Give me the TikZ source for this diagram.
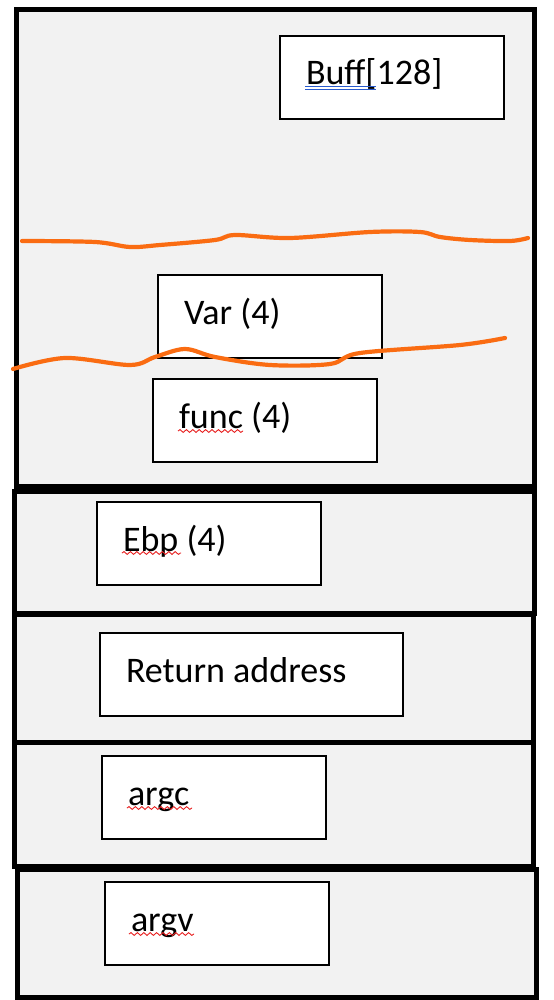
\documentclass[tikz,border=0pt]{standalone}
\usepackage{fontspec}
\setmainfont{Carlito}
\usetikzlibrary{decorations.pathmorphing}

\definecolor{stackgray}{RGB}{242,242,242}
\definecolor{markorange}{RGB}{250,108,18}
\definecolor{spellred}{RGB}{232,32,32}
\definecolor{grammarblue}{RGB}{40,90,205}

\tikzset{
  frame/.style={draw, line width=2.6pt, fill=stackgray, anchor=north west, inner sep=0pt},
  slot/.style={draw, line width=1pt, fill=white, anchor=north west, inner xsep=13pt, inner ysep=0pt,
    text width=86pt, text height=24.5pt, text depth=17pt, align=flush left, font=\fontsize{18}{22}\selectfont},
  scribble/.style={markorange, line width=2.1pt, line cap=round, line join=round},
  spell/.style={spellred, line width=0.45pt, decorate, decoration={snake, amplitude=0.7pt, segment length=3.2pt}},
  grammar/.style={grammarblue, line width=0.5pt}
}

\begin{document}
\begin{tikzpicture}[x=0.5pt, y=-0.5pt]
  \useasboundingbox (0,0) rectangle (553,1000);
  % stack frames
  \node[frame, minimum width=259pt, minimum height=238.5pt] (locals) at (14,7) {};
  \node[frame, minimum width=260pt, minimum height=61pt] (savedebp) at (12,489) {};
  \node[frame, minimum width=259.5pt, minimum height=64pt] (retaddr) at (12,612) {};
  \node[frame, minimum width=259.5pt, minimum height=62pt] (argcframe) at (12,740) {};
  \node[frame, minimum width=259.5pt, minimum height=64pt] (argvframe) at (15,867) {};

  % slots
  \node[slot] (buff) at (279,35) {Buff[128]};
  \node[slot] (var) at (157,274) {Var (4)};
  \node[slot] (func) at (152,378) {func (4)};
  \node[slot] (ebp) at (96,501) {Ebp (4)};
  \node[slot, text width=125.5pt] (ret) at (99,632) {Return address};
  \node[slot] (argc) at (101,755) {argc};
  \node[slot] (argv) at (104,881) {argv};

  % proofing marks
  \draw[grammar] ([shift={(26,52)}]buff.north west) -- ++(71,0);
  \draw[grammar] ([shift={(26,55)}]buff.north west) -- ++(71,0);
  \draw[spell] ([shift={(26,53)}]func.north west) -- ++(65,0);
  \draw[spell] ([shift={(26,52)}]ebp.north west) -- ++(59,0);
  \draw[spell] ([shift={(26,53)}]argc.north west) -- ++(65,0);
  \draw[spell] ([shift={(25,53)}]argv.north west) -- ++(65,0);

  % orange strokes
  \draw[scribble] plot[smooth, tension=0.55] coordinates {(22,241) (95,242) (130,247) (160,245) (215,240)
    (235,235) (290,238) (370,232) (420,232) (440,237) (470,240) (510,241) (528,238)};
  \draw[scribble] plot[smooth, tension=0.55] coordinates {(13,369) (65,358) (130,365) (155,357) (185,349)
    (215,357) (270,365) (330,364) (360,353) (460,345) (505,338)};
\end{tikzpicture}
\end{document}
